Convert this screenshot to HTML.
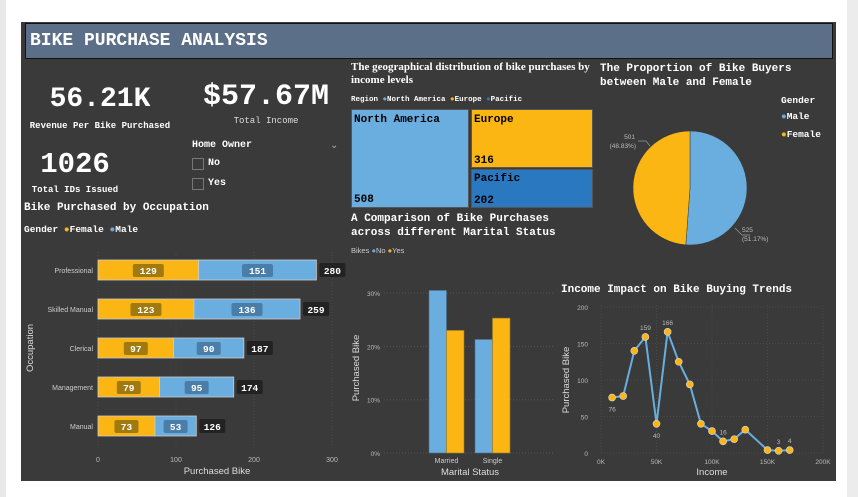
<!DOCTYPE html>
<html><head><meta charset="utf-8"><style>
body{margin:0;width:858px;height:497px;background:#fff;position:relative;overflow:hidden;font-family:"Liberation Sans",sans-serif}
.abs{position:absolute}
.mono{font-family:"Liberation Mono","DejaVu Sans Mono",monospace;color:#fff}
</style></head><body>
<div class="abs" style="left:0;top:0;width:6px;height:497px;background:#e8e8e8"></div>
<div class="abs" style="left:847px;top:0;width:11px;height:497px;background:#ececec"></div>
<div class="abs" style="left:21px;top:22px;width:815px;height:459px;background:#3a3a3a"></div>
<div class="abs mono" style="left:25px;top:23px;height:36px;background:#5b7088;border:1px solid #111;font-size:18px;font-weight:bold;line-height:34px;padding-left:4px;box-sizing:border-box;width:808px">BIKE PURCHASE ANALYSIS</div>

<div class="abs mono" style="left:25px;top:84px;width:150px;text-align:center;font-size:28px;font-weight:bold">56.21K</div>
<div class="abs mono" style="left:25px;top:121px;width:150px;text-align:center;font-size:9px;font-weight:bold">Revenue Per Bike Purchased</div>
<div class="abs mono" style="left:195px;top:80px;width:142px;text-align:center;font-size:30px;font-weight:bold">$57.67M</div>
<div class="abs mono" style="left:195px;top:116px;width:142px;text-align:center;font-size:9px;color:#ddd">Total Income</div>
<div class="abs mono" style="left:25px;top:148px;width:100px;text-align:center;font-size:29px;font-weight:bold">1026</div>
<div class="abs mono" style="left:25px;top:185px;width:100px;text-align:center;font-size:9px;font-weight:bold">Total IDs Issued</div>

<div class="abs mono" style="left:192px;top:140px;font-size:10px;font-weight:bold">Home Owner</div>
<div class="abs" style="left:330px;top:140px;color:#aaa;font-size:10px">&#8964;</div>
<div class="abs" style="left:192px;top:158px;width:10px;height:10px;border:1px solid #777"></div>
<div class="abs mono" style="left:208px;top:158px;font-size:10px;font-weight:bold">No</div>
<div class="abs" style="left:192px;top:178px;width:10px;height:10px;border:1px solid #777"></div>
<div class="abs mono" style="left:208px;top:178px;font-size:10px;font-weight:bold">Yes</div>

<div class="abs mono" style="left:24px;top:202px;font-size:11px;font-weight:bold">Bike Purchased by Occupation</div>
<div class="abs mono" style="left:24px;top:224px;font-size:9.5px;font-weight:bold">Gender <span style="color:#fbb614">●</span>Female <span style="color:#6aa8dc">●</span>Male</div>

<div class="abs" style="left:351px;top:61px;font-family:'Liberation Serif',serif;font-weight:bold;font-size:11px;color:#fff;line-height:13px;width:245px">The geographical distribution of bike purchases by income levels</div>
<div class="abs mono" style="left:351px;top:96px;font-size:7.5px;font-weight:bold">Region <span style="color:#6aa8dc">●</span>North America <span style="color:#fbb614">●</span>Europe <span style="color:#2a78c0">●</span>Pacific</div>
<div class="abs" style="left:351px;top:109px;width:118px;height:99px;background:#6aaddf;border:1px solid #555;box-sizing:border-box"><div class="abs" style="left:2px;top:4px;font-family:'Liberation Mono',monospace;font-weight:bold;font-size:11px;color:#000">North America</div><div class="abs" style="left:2px;bottom:1px;font-family:'Liberation Mono',monospace;font-weight:bold;font-size:11px;color:#000">508</div></div>
<div class="abs" style="left:471px;top:109px;width:122px;height:59px;background:#fbb614;border:1px solid #555;box-sizing:border-box"><div class="abs" style="left:2px;top:4px;font-family:'Liberation Mono',monospace;font-weight:bold;font-size:11px;color:#000">Europe</div><div class="abs" style="left:2px;bottom:0px;font-family:'Liberation Mono',monospace;font-weight:bold;font-size:11px;color:#000">316</div></div>
<div class="abs" style="left:471px;top:169px;width:122px;height:39px;background:#2a78c0;border:1px solid #555;box-sizing:border-box"><div class="abs" style="left:2px;top:3px;font-family:'Liberation Mono',monospace;font-weight:bold;font-size:11px;color:#000">Pacific</div><div class="abs" style="left:2px;bottom:0px;font-family:'Liberation Mono',monospace;font-weight:bold;font-size:11px;color:#000">202</div></div>

<div class="abs mono" style="left:351px;top:212px;font-size:11px;font-weight:bold;line-height:14px">A Comparison of Bike Purchases<br>across different Marital Status</div>
<div class="abs" style="left:351px;top:246px;font-size:7.5px;color:#ccc">Bikes <span style="color:#6aa8dc">●</span>No <span style="color:#fbb614">●</span>Yes</div>

<div class="abs mono" style="left:600px;top:62px;font-size:11px;font-weight:bold;line-height:14px">The Proportion of Bike Buyers<br>between Male and Female</div>
<div class="abs mono" style="left:781px;top:95px;font-size:9.5px;font-weight:bold">Gender</div>
<div class="abs mono" style="left:781px;top:111px;font-size:9.5px;font-weight:bold"><span style="color:#6aa8dc">●</span>Male</div>
<div class="abs mono" style="left:781px;top:129px;font-size:9.5px;font-weight:bold"><span style="color:#fbb614">●</span>Female</div>

<div class="abs mono" style="left:561px;top:284px;font-size:11px;font-weight:bold">Income Impact on Bike Buying Trends</div>

<svg class="abs" style="left:0;top:0" width="858" height="497" id="svg"></svg>
<script>
const occupations=["Professional","Skilled Manual","Clerical","Management","Manual"];
const femaleVals=[129,123,97,79,73];
const maleVals=[151,136,90,95,53];
const occTicks=[0,100,200,300];

const maritalCats=["Married","Single"];
const noVals=[30.5,21.3];
const yesVals=[23,25.3];
const pctTicks=[0,10,20,30];

const incomes=[10,20,30,40,50,60,70,80,90,100,110,120,130,150,160,170];
const bikes=[76,78,140,159,40,166,125,94,40,30,16,19,32,4,3,4];
const incomeTicks=[0,50,100,150,200];
const bikeTicks=[0,50,100,150,200];
const labelIdx=[0,3,4,5,10,14,15];

const genders=["Male","Female"];
const genderCounts=[525,501];

const NS="http://www.w3.org/2000/svg";
const svg=document.getElementById('svg');
const MONO="Liberation Mono,DejaVu Sans Mono,monospace";
function mk(t,a,txt){const e=document.createElementNS(NS,t);for(const k in a)e.setAttribute(k,a[k]);if(txt!==undefined)e.textContent=txt;svg.appendChild(e);return e;}
const Y="#fbb614",B="#6aaddf";
let e;

// occupation chart
const ox=v=>98+v*0.78, oy=i=>270+i*39;
occTicks.forEach(t=>{
 e=mk('line',{x1:ox(t),x2:ox(t),y1:252,y2:445,stroke:'#4a4a4a','stroke-dasharray':'1,2'});
 
 
 e=mk('text',{x:ox(t),y:462,fill:'#bbb','font-size':7,'text-anchor':'middle'},t);
 
 
});
e=mk('text',{x:217,y:474,fill:'#ddd','font-size':9.5,'text-anchor':'middle'},'Purchased Bike');


e=mk('text',{x:33,y:348,fill:'#ddd','font-size':9.5,'text-anchor':'middle',transform:'rotate(-90 33 348)'},'Occupation');


occupations.forEach((o,i)=>{
 const y=oy(i),f=femaleVals[i],m=maleVals[i];
 e=mk('text',{x:93,y:y+3,fill:'#ccc','font-size':7,'text-anchor':'end'},o);
 
 
 e=mk('rect',{x:ox(0),y:y-10,width:ox(f)-ox(0),height:20,fill:Y,stroke:'#ccc','stroke-width':0.8});
 
 
 e=mk('rect',{x:ox(f),y:y-10,width:ox(f+m)-ox(f),height:20,fill:B,stroke:'#ccc','stroke-width':0.8});
 
 
 [[f,ox(f/2),'#a07a10'],[m,ox(f+m/2),'#4a7ea8']].forEach(([v,cx,c])=>{
  const w=String(v).length*7+10;
  e=mk('rect',{x:cx-w/2,y:y-6,width:w,height:13,rx:2,fill:c});
  
  
  e=mk('text',{x:cx,y:y+4,fill:'#fff','font-size':9.5,'font-weight':'bold','text-anchor':'middle','font-family':MONO},v);
  
  
 });
 const tx=ox(f+m)+3;
 e=mk('rect',{x:tx,y:y-7,width:26,height:14,rx:2,fill:'#222'});
 
 
 e=mk('text',{x:tx+13,y:y+4,fill:'#fff','font-size':9.5,'font-weight':'bold','text-anchor':'middle','font-family':MONO},f+m);
 
 
});

// marital chart
const my=v=>453-v*5.33;
pctTicks.forEach(t=>{
 e=mk('line',{x1:384,x2:553,y1:my(t),y2:my(t),stroke:'#555','stroke-dasharray':'1,2'});
 
 
 e=mk('text',{x:380,y:my(t)+3,fill:'#bbb','font-size':6.5,'text-anchor':'end'},t+'%');
 
 
});
maritalCats.forEach((c,i)=>{
 const x0=429+i*46;
 e=mk('rect',{x:x0,y:my(noVals[i]),width:17.5,height:my(0)-my(noVals[i]),fill:B,stroke:'#4a6d8a','stroke-width':0.6});
 
 
 e=mk('rect',{x:x0+17.5,y:my(yesVals[i]),width:17.5,height:my(0)-my(yesVals[i]),fill:Y,stroke:'#9a7a20','stroke-width':0.6});
 
 
 e=mk('text',{x:x0+17.5,y:463,fill:'#ccc','font-size':7,'text-anchor':'middle'},c);
 
 
});
e=mk('text',{x:470,y:475,fill:'#ddd','font-size':9.5,'text-anchor':'middle'},'Marital Status');


e=mk('text',{x:359,y:368,fill:'#ddd','font-size':9.5,'text-anchor':'middle',transform:'rotate(-90 359 368)'},'Purchased Bike');



// pie
const total=genderCounts.reduce((a,b)=>a+b,0);
const cx=690,cy=188,r=57;let ang=-Math.PI/2;
const cols=[B,Y];
genderCounts.forEach((v,i)=>{
 const a2=ang+v/total*2*Math.PI;
 const large=(a2-ang)>Math.PI?1:0;
 e=mk('path',{d:`M${cx},${cy} L${cx+r*Math.cos(ang)},${cy+r*Math.sin(ang)} A${r},${r} 0 ${large} 1 ${cx+r*Math.cos(a2)},${cy+r*Math.sin(a2)} Z`,fill:cols[i],stroke:'#3a3a3a','stroke-width':0.5});
 
 
 ang=a2;
});
e=mk('polyline',{points:'735,228 742,235 750,235',fill:'none',stroke:'#999','stroke-width':0.7});


e=mk('text',{x:742,y:232,fill:'#bbb','font-size':6.5},genderCounts[0]);


e=mk('text',{x:742,y:241,fill:'#bbb','font-size':6.5},'('+(genderCounts[0]/total*100).toFixed(2)+'%)');


e=mk('polyline',{points:'638,141 646,141 650,146',fill:'none',stroke:'#999','stroke-width':0.7});


e=mk('text',{x:635,y:139,fill:'#bbb','font-size':6.5,'text-anchor':'end'},genderCounts[1]);


e=mk('text',{x:636,y:148,fill:'#bbb','font-size':6.5,'text-anchor':'end'},'('+(genderCounts[1]/total*100).toFixed(2)+'%)');



// line chart
const lx=v=>601+v*1.11, ly=v=>453-v*0.73;
bikeTicks.forEach(t=>{
 e=mk('line',{x1:601,x2:823,y1:ly(t),y2:ly(t),stroke:'#4a4a4a','stroke-dasharray':'1,2'});
 
 
 e=mk('text',{x:588,y:ly(t)+3,fill:'#bbb','font-size':6.5,'text-anchor':'end'},t);
 
 
});
incomeTicks.forEach(t=>{
 e=mk('line',{x1:lx(t),x2:lx(t),y1:305,y2:453,stroke:'#4a4a4a','stroke-dasharray':'1,2'});
 
 
 e=mk('text',{x:lx(t),y:464,fill:'#bbb','font-size':6.5,'text-anchor':'middle'},t+'K');
 
 
});
e=mk('text',{x:712,y:475,fill:'#ddd','font-size':9.5,'text-anchor':'middle'},'Income');


e=mk('text',{x:569,y:380,fill:'#ddd','font-size':9.5,'text-anchor':'middle',transform:'rotate(-90 569 380)'},'Purchased Bike');


e=mk('polyline',{points:incomes.map((v,i)=>lx(v)+','+ly(bikes[i])).join(' '),fill:'none',stroke:'#6aaddf','stroke-width':2});


incomes.forEach((v,i)=>{
 e=mk('circle',{cx:lx(v),cy:ly(bikes[i]),r:3.5,fill:Y,stroke:'#ddd','stroke-width':0.6});
 
 
});
labelIdx.forEach(i=>{
 const below=(i===0||i===4);
 e=mk('text',{x:lx(incomes[i]),y:below?ly(bikes[i])+14:ly(bikes[i])-7,fill:'#bbb','font-size':6.5,'text-anchor':'middle'},bikes[i]);
 
 
});
</script>
</body></html>
